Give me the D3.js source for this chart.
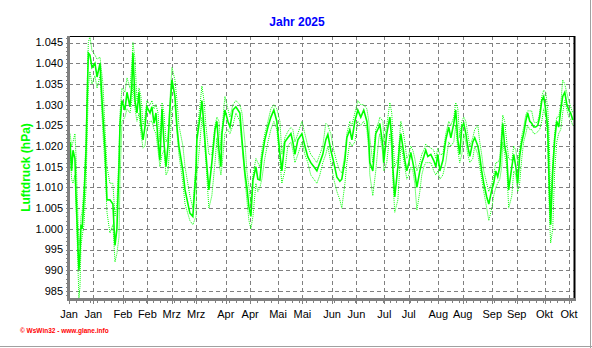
<!DOCTYPE html>
<html>
<head>
<meta charset="utf-8">
<script src="https://cdn.jsdelivr.net/npm/d3@7"></script>
<style>
  html, body { margin: 0; padding: 0; background: #ffffff; }
  svg { display: block; }
</style>
</head>
<body>
<svg id="chart" width="592" height="348"></svg>
<script>
// Luftdruck 2025: day offset from 1 January, mean pressure with daily max / min (hPa)
const dayOffsets = [
  0.6, 1.5, 2.3, 3.4, 4.0, 4.6, 5.2, 5.7, 6.3, 6.9, 7.5, 8.6, 9.8, 10.3, 11.1, 12.0, 13.2, 14.9, 16.1, 17.8,
  19.5, 20.7, 21.8, 23.5, 25.2, 26.4, 27.5, 28.7, 29.3, 30.4, 32.1, 33.3, 35.0, 36.1, 36.7, 37.9, 39.0, 40.2, 41.3, 42.5,
  43.6, 44.7, 46.5, 47.6, 48.8, 49.9, 51.1, 52.2, 53.4, 54.5, 55.7, 56.8, 57.9, 59.1, 60.8, 62.0, 63.1, 65.4, 66.6, 69.4,
  71.1, 72.9, 73.4, 75.2, 76.3, 77.5, 78.6, 80.3, 82.0, 83.8, 84.9, 86.1, 87.2, 87.8, 89.5, 91.2, 92.4, 94.1, 95.8, 98.1,
  99.3, 101.0, 102.1, 103.3, 104.4, 105.6, 107.3, 108.4, 109.6, 110.7, 112.4, 114.2, 115.9, 117.6, 119.3, 121.1, 122.2, 123.9, 125.6, 127.4,
  128.5, 129.7, 131.4, 133.7, 135.4, 137.1, 138.8, 140.6, 142.3, 144.0, 145.7, 147.4, 148.6, 150.3, 152.0, 153.8, 155.5, 156.6, 158.4, 159.5,
  161.2, 162.4, 164.1, 165.8, 167.5, 169.2, 171.0, 172.1, 172.7, 174.4, 176.1, 177.9, 178.4, 180.2, 180.7, 182.4, 184.2, 185.3, 185.9, 187.0,
  188.8, 189.9, 190.5, 191.6, 192.8, 193.9, 195.1, 196.2, 197.4, 198.5, 199.7, 201.4, 202.5, 203.7, 204.8, 206.0, 207.7, 209.4, 210.6, 211.7,
  212.9, 214.6, 216.3, 218.0, 219.2, 220.9, 222.0, 223.2, 224.3, 225.5, 226.6, 227.8, 228.9, 230.1, 231.8, 232.9, 234.7, 235.8, 236.9, 238.1,
  239.8, 241.0, 242.7, 243.8, 245.0, 246.1, 247.3, 248.4, 249.0, 250.1, 251.3, 252.4, 254.2, 255.3, 256.5, 257.6, 258.7, 259.9, 261.0, 262.2,
  263.3, 264.5, 265.6, 266.8, 267.9, 269.1, 270.2, 271.4, 272.5, 273.7, 274.8, 275.4, 276.0, 276.5, 277.7, 278.8, 280.0, 281.1, 282.3, 283.4,
  284.6, 285.7, 286.9, 288.0, 289.2
];
const pressureMean = [
  1021, 1014, 1019, 1017, 1008.6, 1002, 995, 990, 994, 1001, 1000, 1007, 1019, 1029, 1042.5, 1042, 1039, 1040, 1036.7, 1040,
  1027, 1019, 1007, 1007, 1006, 996, 1000, 1015, 1025.5, 1031, 1028.7, 1033, 1029.5, 1035, 1042.5, 1031, 1028, 1033, 1025.5, 1021.5,
  1024.6, 1029.5, 1028, 1029.5, 1025.5, 1028, 1021.5, 1016.6, 1029, 1021, 1015, 1020, 1028.7, 1036, 1032, 1024.6, 1020, 1014, 1009.4, 1003.8,
  1003, 1014, 1021.5, 1027, 1031, 1024.6, 1018, 1009.4, 1016, 1023.9, 1026, 1019, 1015, 1023, 1028.7, 1026, 1024.6, 1028.7, 1029.5, 1028,
  1021.5, 1013.5, 1010, 1005.3, 1003, 1011.8, 1015, 1012, 1011.8, 1017, 1021.5, 1024.6, 1027, 1028.7, 1026, 1018, 1014, 1021, 1022, 1023,
  1021, 1018, 1021.5, 1023, 1020, 1017.4, 1016, 1015, 1014, 1016, 1018, 1021.5, 1022.8, 1019, 1016, 1012.5, 1011.5, 1012, 1016.6, 1022,
  1024, 1021.5, 1026, 1028.7, 1027, 1028.7, 1026, 1021.5, 1016, 1014, 1023, 1024.6, 1025.5, 1020, 1016, 1023, 1027, 1021.5, 1015, 1007.7,
  1015, 1021, 1023, 1020, 1016.6, 1014, 1016, 1018.5, 1016, 1013.6, 1010, 1014, 1016, 1017.5, 1019, 1017.5, 1018, 1016.5, 1015, 1018,
  1014, 1016.5, 1021.5, 1024.6, 1022, 1025.5, 1028.7, 1021.5, 1018, 1024.6, 1025.5, 1023, 1020, 1017.5, 1021, 1022, 1020, 1017.5, 1014, 1011,
  1007.7, 1006, 1009.4, 1011, 1014, 1012.6, 1015, 1021.5, 1025.5, 1020, 1017.5, 1009.4, 1015, 1018, 1015, 1011, 1017.5, 1021, 1023, 1026,
  1028, 1026, 1025.5, 1024.6, 1024.6, 1025, 1027, 1031, 1032, 1028.7, 1024.6, 1015, 1006, 1001, 1014, 1021.5, 1026, 1024.6, 1028.7, 1032,
  1033, 1030.3, 1028.7, 1028, 1026.3
];
const pressureMax = [
  1023, 1020, 1021, 1023, 1018, 1010, 1002, 996, 998, 1003, 1004, 1010, 1022, 1032, 1045, 1046.5, 1043, 1042, 1041, 1041.5,
  1035, 1024, 1015, 1011, 1011, 1003, 1006, 1018, 1028, 1034, 1033, 1036.5, 1034, 1040, 1045, 1041, 1031, 1034, 1032, 1025,
  1027, 1031, 1030, 1031, 1029, 1030, 1028, 1021, 1030.5, 1028, 1021, 1022, 1031, 1039, 1036, 1031, 1025, 1020, 1015, 1008,
  1005, 1016, 1023, 1030, 1034.5, 1031, 1025, 1018, 1018, 1025, 1027, 1026, 1019, 1024, 1032, 1029, 1027, 1030, 1031, 1030,
  1028, 1021, 1014, 1010, 1006, 1013, 1017, 1016, 1015, 1019, 1023, 1026, 1029, 1030, 1029, 1026, 1018, 1022, 1023.5, 1024.5,
  1024, 1021, 1023, 1026, 1023, 1020, 1018, 1017, 1016, 1018, 1020, 1025.5, 1025, 1023, 1019, 1016, 1014, 1013.5, 1018, 1023,
  1026, 1025, 1028, 1031, 1030, 1030, 1029, 1026, 1022, 1016, 1024, 1026, 1027, 1026, 1021, 1025, 1030.5, 1028, 1022, 1015,
  1017, 1023, 1026, 1024, 1021, 1017, 1018, 1020, 1019, 1017, 1014, 1016, 1018, 1019, 1020.5, 1020, 1019.5, 1019, 1017, 1019.5,
  1018, 1018, 1023, 1026, 1025, 1027, 1030.5, 1029, 1022, 1026, 1027, 1026, 1023, 1020, 1022, 1024, 1025, 1021, 1018, 1014,
  1011, 1009, 1011, 1013, 1016, 1016, 1017, 1024, 1027.5, 1026, 1021, 1017, 1016.5, 1020, 1019, 1016, 1019, 1022.5, 1024.5, 1027.5,
  1028.5, 1028.5, 1028.5, 1026, 1025.5, 1026, 1028, 1032, 1033.5, 1033, 1029, 1025, 1016, 1006, 1016, 1023, 1027, 1027, 1030, 1036,
  1035, 1033, 1031, 1029.5, 1028
];
const pressureMin = [
  1019, 1012, 1011, 1013, 1006, 999, 990, 983.3, 986, 996, 998, 1001, 1010, 1020, 1034, 1038, 1035, 1037, 1034, 1037,
  1023, 1015, 1004, 999, 1001, 992, 994, 998, 1012, 1026, 1027, 1029, 1028, 1031, 1035, 1029, 1026, 1028, 1023, 1019.5,
  1020, 1024, 1026, 1026, 1024, 1023, 1019, 1015, 1018, 1019, 1013, 1014, 1020, 1029, 1030, 1023, 1018, 1011, 1006, 1002,
  1001, 1003, 1013, 1021, 1027, 1023, 1016, 1005, 1008, 1016, 1022, 1016, 1013, 1015, 1023, 1024, 1023, 1025, 1028, 1026,
  1020, 1012, 1007, 1002, 1000, 1003, 1011, 1009, 1010, 1012, 1017, 1021, 1024, 1026, 1024, 1016, 1011, 1014, 1020, 1021,
  1019, 1016, 1018, 1021, 1018, 1016, 1013, 1012, 1011, 1013, 1016, 1018, 1020, 1016, 1012, 1009, 1007, 1005, 1011, 1016,
  1021, 1020, 1021, 1026, 1025, 1026, 1024, 1019, 1013, 1008, 1014, 1022, 1023, 1018, 1014, 1016, 1023, 1019, 1012, 1004,
  1007, 1015, 1020, 1018, 1015, 1012, 1013, 1015, 1014, 1011, 1004.5, 1009, 1013, 1015, 1016, 1016, 1016, 1014, 1013, 1014,
  1012, 1013, 1016, 1021, 1020, 1021, 1025, 1019, 1016, 1018, 1023, 1021, 1018, 1016, 1017, 1020, 1018, 1015, 1012, 1009,
  1005, 1002, 1005, 1008, 1010, 1011, 1012, 1015, 1021, 1018, 1015, 1005, 1008, 1014, 1013, 1009, 1011, 1017, 1021, 1023,
  1025, 1024, 1024, 1023, 1023, 1023.5, 1024, 1026, 1029, 1027, 1022, 1010, 1001, 996.6, 1000, 1014, 1021, 1023, 1024, 1028,
  1031, 1029, 1027, 1026.5, 1025
];

const monthNames = ["Jan", "Feb", "Mrz", "Apr", "Mai", "Jun", "Jul", "Aug", "Sep", "Okt", "Nov", "Dez"];
const yTickValues = [985, 990, 995, 1000, 1005, 1010, 1015, 1020, 1025, 1030, 1035, 1040, 1045];
const yearStart = Date.UTC(2025, 0, 1);
const lastDay = 289.9;
const yDomain = [983.05, 1046.6];

const width = 592, height = 348;
const plot = { left: 69, right: 574, top: 36, bottom: 299 };
const green = "#00ff00";
const gridGray = "#808080";

const toDate = d => new Date(yearStart + d * 864e5);

const svg = d3.select("#chart");
svg.append("rect").attr("width", width).attr("height", height).attr("fill", "#ffffff");

const x = d3.scaleUtc().domain([toDate(0), toDate(lastDay)]).range([plot.left, plot.right]);
const y = d3.scaleLinear().domain(yDomain).range([plot.bottom, plot.top]);

// major x ticks on the 1st and 15th of every month
const xMajor = d3.utcMonth.range(toDate(0), toDate(lastDay))
  .flatMap(m => [m, d3.utcDay.offset(m, 14)])
  .filter(d => d <= toDate(lastDay));
// minor x ticks every few days
const xMinor = d3.utcDay.range(toDate(0), toDate(lastDay)).filter((d, i) => i % 4 === 0);
const yMinor = d3.range(984, 1047, 1);

const deLocale = d3.formatLocale({ decimal: ",", thousands: ".", grouping: [3], currency: ["", " €"] });
const yFmt = deLocale.format(",");

// grid
const grid = svg.append("g").attr("stroke", gridGray).attr("stroke-width", 1).attr("stroke-dasharray", "4,3").attr("fill", "none");
grid.selectAll("line.h").data(yTickValues).join("line")
  .attr("x1", plot.left).attr("x2", plot.right)
  .attr("y1", d => Math.round(y(d)) + 0.5).attr("y2", d => Math.round(y(d)) + 0.5);
grid.selectAll("line.v").data(xMajor.filter(d => +d > +toDate(0))).join("line")
  .attr("x1", d => Math.round(x(d)) + 0.5).attr("x2", d => Math.round(x(d)) + 0.5)
  .attr("y1", plot.top).attr("y2", plot.bottom);

// data lines
const lineOf = vals => d3.line()
  .x((d, i) => x(toDate(dayOffsets[i])))
  .y(d => y(d))(vals);

const series = svg.append("g").attr("fill", "none").attr("stroke", green);
series.append("path").attr("d", lineOf(pressureMax)).attr("stroke-width", 1).attr("stroke-dasharray", "1,1");
series.append("path").attr("d", lineOf(pressureMin)).attr("stroke-width", 1).attr("stroke-dasharray", "1,1");
series.append("path").attr("d", lineOf(pressureMean)).attr("stroke-width", 1.6);

// frame: black top / right, grey axes left / bottom
svg.append("line").attr("x1", plot.left).attr("x2", plot.right + 1).attr("y1", plot.top + 0.5).attr("y2", plot.top + 0.5)
  .attr("stroke", "#000").attr("stroke-width", 1);
svg.append("line").attr("x1", plot.right + 0.5).attr("x2", plot.right + 0.5).attr("y1", plot.top).attr("y2", plot.bottom + 2)
  .attr("stroke", "#000").attr("stroke-width", 2);

// y axis
const yAxis = svg.append("g").attr("transform", `translate(${plot.left},0)`);
yAxis.selectAll("line.minor").data(yMinor).join("line")
  .attr("x1", -3).attr("x2", 0)
  .attr("y1", d => Math.round(y(d)) + 0.5).attr("y2", d => Math.round(y(d)) + 0.5)
  .attr("stroke", gridGray);
yAxis.selectAll("text").data(yTickValues).join("text")
  .attr("x", -6).attr("y", d => y(d)).attr("dy", "0.35em")
  .attr("text-anchor", "end")
  .attr("font-family", "Liberation Sans, Arial, sans-serif").attr("font-size", 11).attr("fill", "#000")
  .text(d => yFmt(d));
svg.append("line").attr("x1", plot.left - 0.5).attr("x2", plot.left - 0.5).attr("y1", plot.top).attr("y2", plot.bottom + 2)
  .attr("stroke", gridGray).attr("stroke-width", 3);

// x axis
const xAxis = svg.append("g").attr("transform", `translate(0,${plot.bottom})`);
xAxis.selectAll("line.minor").data(xMinor).join("line")
  .attr("x1", d => Math.round(x(d)) + 0.5).attr("x2", d => Math.round(x(d)) + 0.5)
  .attr("y1", 0).attr("y2", 4).attr("stroke", gridGray);
xAxis.selectAll("line.major").data(xMajor).join("line")
  .attr("x1", d => Math.round(x(d)) + 0.5).attr("x2", d => Math.round(x(d)) + 0.5)
  .attr("y1", 0).attr("y2", 5).attr("stroke", gridGray);
xAxis.selectAll("text").data(xMajor).join("text")
  .attr("x", d => x(d)).attr("y", 19)
  .attr("text-anchor", "middle")
  .attr("font-family", "Liberation Sans, Arial, sans-serif").attr("font-size", 11).attr("fill", "#000")
  .text(d => monthNames[d.getUTCMonth()]);
svg.append("line").attr("x1", plot.left - 2).attr("x2", plot.right + 1).attr("y1", plot.bottom + 0.5).attr("y2", plot.bottom + 0.5)
  .attr("stroke", gridGray).attr("stroke-width", 3);

// title and axis label
svg.append("text").attr("x", 297).attr("y", 26).attr("text-anchor", "middle")
  .attr("font-family", "Liberation Sans, Arial, sans-serif").attr("font-size", 12).attr("font-weight", "bold")
  .attr("fill", "#0000ff").text("Jahr 2025");
svg.append("text").attr("transform", `translate(30,${(plot.top + plot.bottom) / 2}) rotate(-90)`)
  .attr("text-anchor", "middle")
  .attr("font-family", "Liberation Sans, Arial, sans-serif").attr("font-size", 12).attr("font-weight", "bold")
  .attr("fill", green).text("Luftdruck (hPa)");

// footer
svg.append("text").attr("x", 20).attr("y", 333)
  .attr("font-family", "Liberation Sans, Arial, sans-serif").attr("font-size", 6.5).attr("font-weight", "bold")
  .attr("fill", "#ff0000").text("© WsWin32 - www.glane.info");

// outer panel edge
svg.append("line").attr("x1", 0).attr("x2", width).attr("y1", height - 1.5).attr("y2", height - 1.5).attr("stroke", "#a0a0a0").attr("stroke-width", 1);
svg.append("line").attr("x1", width - 1.5).attr("x2", width - 1.5).attr("y1", 0).attr("y2", height).attr("stroke", "#a0a0a0").attr("stroke-width", 1);
</script>
</body>
</html>
